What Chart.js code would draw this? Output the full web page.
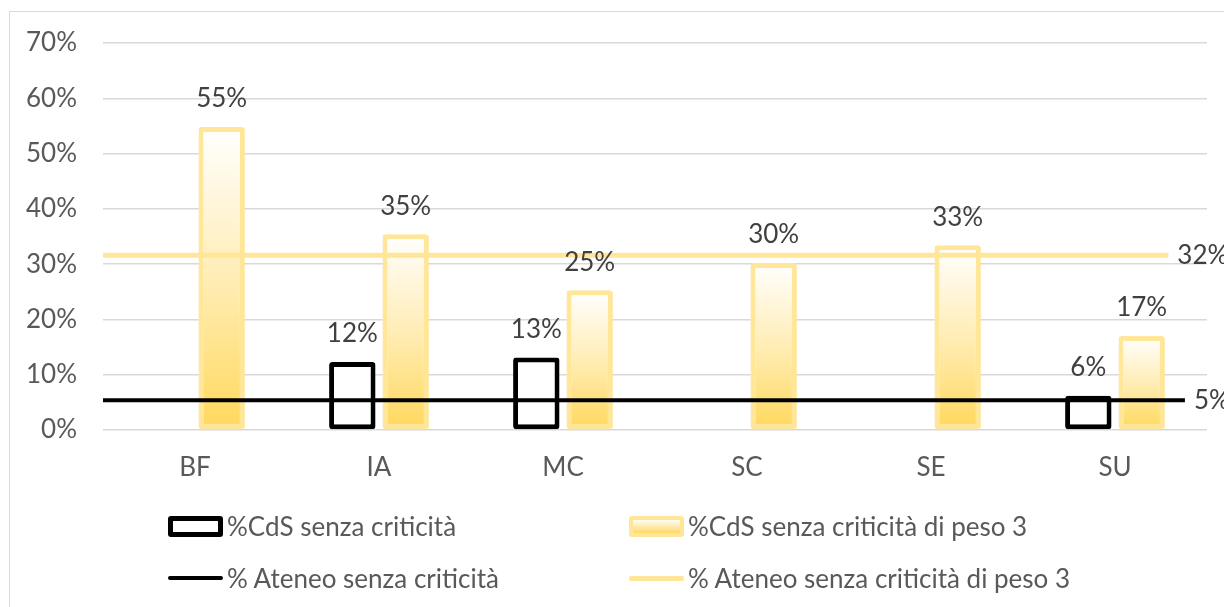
<!DOCTYPE html>
<html>
<head>
<meta charset="utf-8">
<script src="https://cdn.jsdelivr.net/npm/chart.js@4"></script>
<style>
  html, body { margin: 0; padding: 0; background: #fff; overflow: hidden; }
  #wrap { position: relative; width: 1224px; height: 607px; }
  #frame { position: absolute; left: 9px; top: 11px; width: 1240px; height: 620px; border: 1px solid #d9d9d9; box-sizing: border-box; pointer-events: none; }
  #legend { position: absolute; left: 0; top: 0; width: 1224px; height: 607px; pointer-events: none;
            font-family: Lato, "Open Sans", sans-serif; font-size: 26px; color: #595959; }
  .item { position: absolute; display: flex; align-items: center; white-space: nowrap; }
  .sw { width: 55px; height: 21px; box-sizing: border-box; margin-right: 4px; }
  .sw.box1 { border: 5px solid #000; border-radius: 3px; background: #fff; }
  .sw.box2 { border: 4px solid #ffe699; border-radius: 3px; background: linear-gradient(#fffdf5, #ffd966); }
  .sw.line1 { height: 4px; background: #000; border-radius: 2px; }
  .sw.line2 { height: 5px; background: #ffe699; border-radius: 2px; }
</style>
</head>
<body>
<div id="wrap">
  <canvas id="chart" width="1224" height="607"></canvas>
  <div id="frame"></div>
  <div id="legend"></div>
</div>
<script>
// dati
const categorie = ["BF", "IA", "MC", "SC", "SE", "SU"]
const cdsSenzaCriticita = [null, 12.3, 13.1, null, null, 6.2]
const cdsSenzaPeso3 = [54.8, 35.4, 25.3, 30.2, 33.4, 17.0]
const ateneoSenza = 5.4
const ateneoSenzaPeso3 = 31.6
// estremi orizzontali delle due linee di Ateneo (in unità di categoria)
const lineaAteneoX = [-0.5, 5.38]
const lineaPeso3X = [-0.5, 5.29]
const etichetteLinee = ["5%", "32%"]
const yTicks = [0, 10, 20, 30, 40, 50, 60, 70]
const nomiSerie = [
    "%CdS senza criticità",
    "%CdS senza criticità di peso 3",
    "% Ateneo senza criticità",
    "% Ateneo senza criticità di peso 3"
]

const FONT = "Lato, 'Open Sans', sans-serif"

/**
 * Gradiente verticale per ogni barra gialla (bianco in alto, oro in basso).
 */
function goldGradient(context) {
    const chart = context.chart
    if (!chart.chartArea || context.parsed == null) return '#ffe699'
    const yScale = chart.scales.y
    const top = yScale.getPixelForValue(context.parsed.y)
    const bottom = yScale.getPixelForValue(0)
    const g = chart.ctx.createLinearGradient(0, top, 0, bottom)
    g.addColorStop(0, '#ffffff')
    g.addColorStop(0.5, '#ffedb5')
    g.addColorStop(1, '#ffd85c')
    return g
}

/**
 * Etichette dei valori sopra le barre e a destra delle linee.
 */
const labelsPlugin = {
    id: 'labels',
    afterDatasetsDraw(chart) {
        const ctx = chart.ctx
        ctx.save()
        ctx.font = "26px " + FONT
        ctx.fillStyle = '#404040'
        ctx.textBaseline = 'middle'
        chart.data.datasets.forEach((ds, i) => {
            const meta = chart.getDatasetMeta(i)
            if (ds.type === 'bar') {
                ctx.textAlign = 'center'
                meta.data.forEach((el, j) => {
                    const v = ds.data[j].y
                    if (v == null) return
                    ctx.fillText(Math.round(v) + '%', el.x, el.y - 28)
                })
            } else {
                ctx.textAlign = 'left'
                const last = meta.data[meta.data.length - 1]
                ctx.fillText(ds.endLabel, last.x + 9, last.y)
            }
        })
        ctx.restore()
    }
}

const toPoints = arr => arr.map((v, i) => ({ x: i, y: v }))

new Chart(document.querySelector("#chart"), {
    data: {
        datasets: [
            {
                type: 'bar',
                label: nomiSerie[0],
                data: toPoints(cdsSenzaCriticita),
                backgroundColor: '#ffffff',
                borderColor: '#000000',
                borderWidth: 5,
                borderRadius: 3,
                borderSkipped: false,
                categoryPercentage: 0.58,
                barPercentage: 0.87,
                order: 2
            },
            {
                type: 'bar',
                label: nomiSerie[1],
                data: toPoints(cdsSenzaPeso3),
                backgroundColor: goldGradient,
                borderColor: '#ffe699',
                borderWidth: 5,
                borderRadius: 3,
                borderSkipped: false,
                categoryPercentage: 0.58,
                barPercentage: 0.87,
                order: 3
            },
            {
                type: 'line',
                label: nomiSerie[2],
                data: lineaAteneoX.map(x => ({ x: x, y: ateneoSenza })),
                borderColor: '#000000',
                borderWidth: 4,
                pointRadius: 0,
                endLabel: etichetteLinee[0],
                order: 0
            },
            {
                type: 'line',
                label: nomiSerie[3],
                data: lineaPeso3X.map(x => ({ x: x, y: ateneoSenzaPeso3 })),
                borderColor: '#ffe699',
                borderWidth: 5,
                pointRadius: 0,
                endLabel: etichetteLinee[1],
                order: 1
            }
        ]
    },
    options: {
        responsive: false,
        animation: false,
        layout: { padding: { top: 43, right: 17, bottom: 117, left: 0 } },
        plugins: {
            legend: { display: false },
            tooltip: { enabled: false }
        },
        scales: {
            x: {
                type: 'linear',
                offset: false,
                min: -0.5,
                max: categorie.length - 0.5,
                afterBuildTicks(scale) { scale.ticks = categorie.map((c, i) => ({ value: i })) },
                grid: { display: false, drawTicks: false, offset: false },
                border: { display: false },
                ticks: {
                    color: '#595959',
                    font: { family: FONT, size: 26 },
                    padding: 22,
                    callback: v => categorie[v]
                },
                afterFit(scale) { scale.height = 60 }
            },
            y: {
                min: 0,
                max: 70,
                afterBuildTicks(scale) { scale.ticks = yTicks.map(v => ({ value: v })) },
                grid: { color: '#d9d9d9', lineWidth: 1.5, drawTicks: false },
                border: { display: false },
                ticks: {
                    color: '#595959',
                    font: { family: FONT, size: 26 },
                    padding: 26,
                    callback: v => v + '%'
                },
                afterFit(scale) { scale.width = 103 }
            }
        }
    },
    plugins: [labelsPlugin]
})

// legenda in html su due colonne
const legendPos = [
    { x: 168, y: 526, cls: 'box1' },
    { x: 629, y: 526, cls: 'box2' },
    { x: 168, y: 578, cls: 'line1' },
    { x: 629, y: 578, cls: 'line2' }
]
const legend = document.querySelector("#legend")
nomiSerie.forEach((name, i) => {
    const p = legendPos[i]
    const item = document.createElement('div')
    item.className = 'item'
    item.style.left = p.x + 'px'
    item.style.top = (p.y - 16) + 'px'
    item.style.height = '32px'
    item.innerHTML = '<div class="sw ' + p.cls + '"></div><span>' + name + '</span>'
    legend.appendChild(item)
})
</script>
</body>
</html>
